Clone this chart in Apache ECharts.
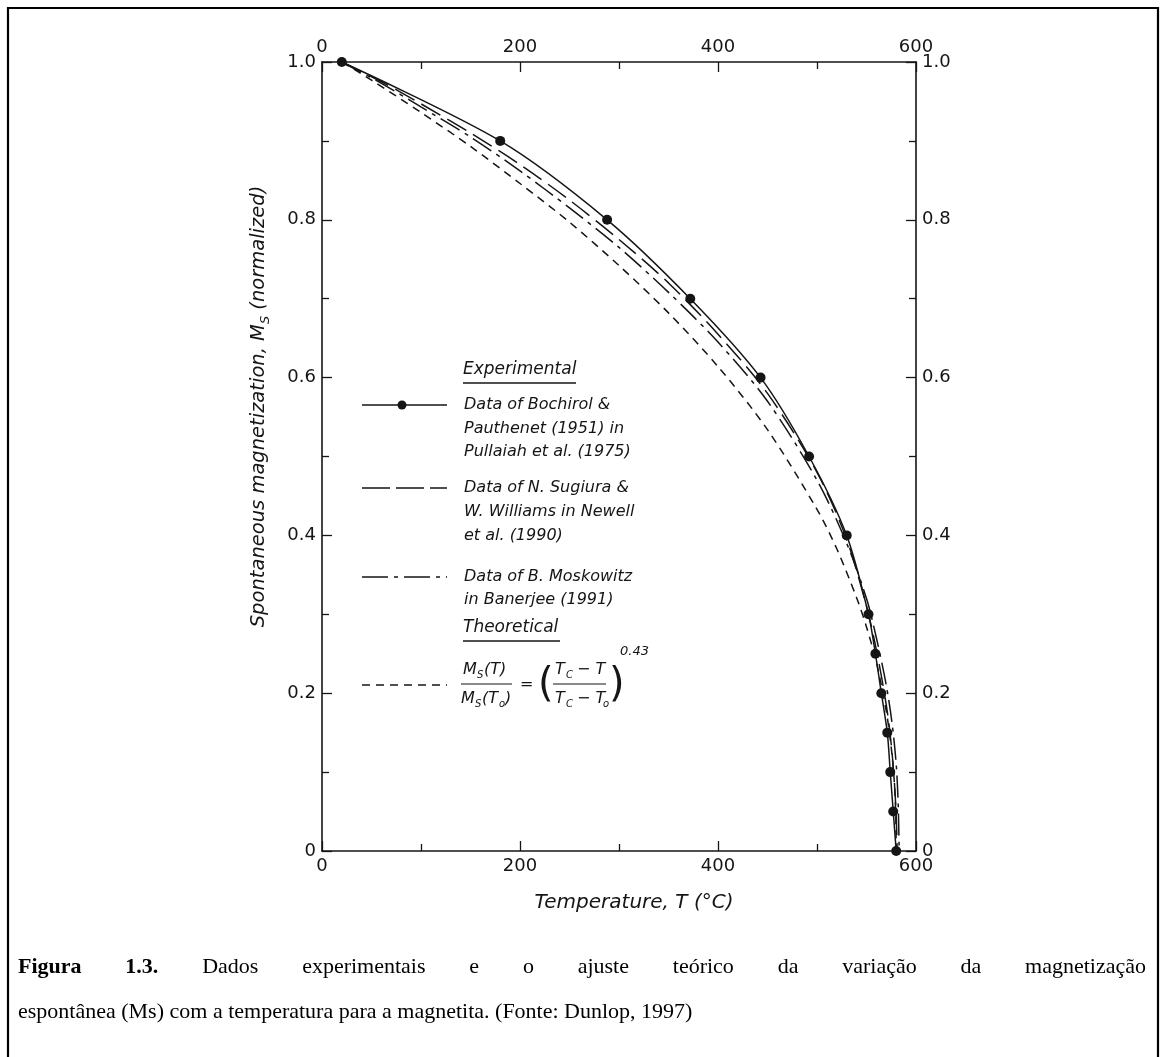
<!DOCTYPE html>
<html>
<head>
<meta charset="utf-8">
<script src="https://cdn.jsdelivr.net/npm/echarts@6/dist/echarts.min.js"></script>
<style>
html,body{margin:0;padding:0;background:#fff;}
#chart{width:1166px;height:1057px;}
</style>
</head>
<body>
<div id="chart"></div>
<script>
// ---- data ----
const xTicks = [0, 200, 400, 600];
const yTicks = [0, 0.2, 0.4, 0.6, 0.8, 1.0];

const bochirolT  = [20, 180, 288, 372, 443, 492, 530, 552, 559, 565, 571, 574, 577, 580];
const bochirolMs = [1.0, 0.9, 0.8, 0.7, 0.6, 0.5, 0.4, 0.3, 0.25, 0.2, 0.15, 0.1, 0.05, 0];

const sugiuraT  = [20, 60, 100, 150, 200, 250, 300, 350, 400, 450, 500, 530, 550, 560, 570, 575, 578, 580, 581];
const sugiuraMs = [1.0, 0.975, 0.947, 0.91, 0.87, 0.825, 0.775, 0.72, 0.655, 0.58, 0.48, 0.395, 0.31, 0.255, 0.185, 0.135, 0.09, 0.045, 0];

const moskowitzT  = [20, 60, 100, 150, 200, 250, 300, 350, 400, 450, 500, 530, 550, 560, 570, 576, 580, 582, 583];
const moskowitzMs = [1.0, 0.973, 0.943, 0.905, 0.862, 0.815, 0.765, 0.708, 0.645, 0.57, 0.47, 0.39, 0.32, 0.27, 0.21, 0.16, 0.11, 0.06, 0];

const theoryT  = [20, 50, 100, 150, 200, 250, 300, 350, 400, 450, 500, 520, 540, 550, 560, 570, 575, 578, 579.5, 580];
const theoryMs = [1.0, 0.977, 0.936, 0.893, 0.846, 0.797, 0.742, 0.682, 0.614, 0.534, 0.433, 0.383, 0.321, 0.284, 0.239, 0.177, 0.131, 0.089, 0.049, 0];

const xName = 'Temperature, T (°C)';
const captionLine1 = [['Figura', true], ['1.3.', true], ['Dados'], ['experimentais'], ['e'], ['o'], ['ajuste'], ['teórico'], ['da'], ['variação'], ['da'], ['magnetização']];
const captionLine2 = 'espontânea (Ms) com a temperatura para a magnetita. (Fonte: Dunlop, 1997)';

// ---- build ----
const zip = (a, b) => a.map((v, i) => [v, b[i]]);
const INK = '#151515';
const tickFont = 'DejaVu Sans';
const lgFont = 'DejaVu Sans';

const chart = echarts.init(document.getElementById('chart'), null, {renderer: 'canvas'});

function xAxisCfg(pos) {
  return {
    type: 'value', position: pos, min: 0, max: 600, interval: 200,
    axisLine: {show: true, onZero: false, lineStyle: {color: INK, width: 1.6}},
    axisTick: {show: true, inside: true, length: 10, lineStyle: {color: INK, width: 1.3}},
    minorTick: {show: true, splitNumber: 2, length: 7, lineStyle: {color: INK, width: 1.3}},
    splitLine: {show: false},
    axisLabel: {color: INK, fontFamily: tickFont, fontSize: 18, margin: 6,
      formatter: v => xTicks.includes(v) ? String(v) : ''}
  };
}
function yAxisCfg(pos) {
  return {
    type: 'value', position: pos, min: 0, max: 1, interval: 0.2,
    axisLine: {show: true, onZero: false, lineStyle: {color: INK, width: 1.6}},
    axisTick: {show: true, inside: true, length: 10, lineStyle: {color: INK, width: 1.3}},
    minorTick: {show: true, splitNumber: 2, length: 7, lineStyle: {color: INK, width: 1.3}},
    splitLine: {show: false},
    axisLabel: {color: INK, fontFamily: tickFont, fontSize: 18, margin: 6,
      formatter: v => v === 0 ? '0' : v.toFixed(1)}
  };
}

const xb = xAxisCfg('bottom');
xb.name = xName;
xb.nameLocation = 'middle';
xb.nameGap = 42;
xb.nameTextStyle = {color: INK, fontFamily: lgFont, fontStyle: 'italic', fontSize: 20, padding: [0, 0, 0, 30]};
const xt = xAxisCfg('top');
const yl = yAxisCfg('left');
yl.name = '{a|Spontaneous magnetization, M}{b|S}{a| (normalized)}';
yl.nameLocation = 'middle';
yl.nameGap = 50;
yl.nameRotate = 90;
yl.nameTextStyle = {color: INK, padding: [0, 0, 0, 100], rich: {
  a: {fontFamily: lgFont, fontStyle: 'italic', fontSize: 19.5, color: INK, lineHeight: 26},
  b: {fontFamily: lgFont, fontStyle: 'italic', fontSize: 13, color: INK, lineHeight: 26, verticalAlign: 'bottom', padding: [10, 0, 0, 0]}
}};
const yr = yAxisCfg('right');

function lineSeries(name, T, M, dash, extra) {
  return Object.assign({
    name, type: 'line', xAxisIndex: 0, yAxisIndex: 0,
    data: zip(T, M), smooth: 0.3,
    showSymbol: false, symbol: 'none',
    lineStyle: {color: INK, width: 1.5, type: dash},
    itemStyle: {color: INK}, animation: false
  }, extra || {});
}

// ---- legend & caption graphics ----
const G = [];
function txt(x, y, text, opt) {
  G.push({type: 'text', x, y, silent: true, style: Object.assign({
    text, fill: INK, fontFamily: lgFont, fontStyle: 'italic', fontSize: 16,
    textAlign: 'left', textVerticalAlign: 'middle'}, (opt || {}).style || {})});
}
function seg(x1, y1, x2, y2, dash, w) {
  G.push({type: 'line', silent: true, shape: {x1, y1, x2, y2},
    style: {stroke: INK, lineWidth: w || 1.5, lineDash: dash || null}});
}

// Experimental heading
txt(463, 370, 'Experimental', {style: {fontSize: 17}});
seg(463, 383, 576, 383, null, 1.4);
// item 1
seg(362, 405, 447, 405, null, 1.5);
G.push({type: 'circle', silent: true, shape: {cx: 402, cy: 405, r: 4.5}, style: {fill: INK}});
txt(464, 405, 'Data of Bochirol &');
txt(464, 429, 'Pauthenet (1951) in');
txt(464, 452, 'Pullaiah et al. (1975)');
// item 2
seg(362, 488, 447, 488, [28, 6], 1.5);
txt(464, 488, 'Data of N. Sugiura &');
txt(464, 512, 'W. Williams in Newell');
txt(464, 536, 'et al. (1990)');
// item 3
seg(362, 577, 447, 577, [26, 6, 4, 6], 1.5);
txt(464, 577, 'Data of B. Moskowitz');
txt(464, 600, 'in Banerjee (1991)');
// Theoretical heading
txt(463, 628, 'Theoretical', {style: {fontSize: 17}});
seg(463, 641, 560, 641, null, 1.4);
// item 4
seg(362, 685, 447, 685, [8, 6], 1.5);
// formula
txt(463, 670, 'M', {style: {fontSize: 16}});
txt(477, 675, 'S', {style: {fontSize: 10}});
txt(484, 670, '(T)', {style: {fontSize: 16}});
seg(461, 684, 512, 684, null, 1.2);
txt(461, 699, 'M', {style: {fontSize: 16}});
txt(475, 704, 'S', {style: {fontSize: 10}});
txt(482, 699, '(T', {style: {fontSize: 16}});
txt(499, 704, 'o', {style: {fontSize: 10}});
txt(505, 699, ')', {style: {fontSize: 16}});
txt(520, 685, '=', {style: {fontSize: 16, fontStyle: 'normal'}});
txt(538, 686, '(', {style: {fontSize: 40, fontStyle: 'normal'}});
txt(555, 670, 'T', {style: {fontSize: 16}});
txt(566, 675, 'C', {style: {fontSize: 10}});
txt(577, 670, '− T', {style: {fontSize: 16}});
seg(553, 684, 606, 684, null, 1.2);
txt(555, 699, 'T', {style: {fontSize: 16}});
txt(566, 704, 'C', {style: {fontSize: 10}});
txt(577, 699, '− T', {style: {fontSize: 16}});
txt(603, 704, 'o', {style: {fontSize: 10}});
txt(609, 686, ')', {style: {fontSize: 40, fontStyle: 'normal'}});
txt(620, 652, '0.43', {style: {fontSize: 13}});

// outer frame
G.push({type: 'rect', silent: true, shape: {x: 8, y: 8, width: 1150, height: 1100},
  style: {fill: 'none', stroke: '#000', lineWidth: 2.2}});

// caption line 1, justified
(function () {
  const c = document.createElement('canvas').getContext('2d');
  const fam = '"Liberation Serif", "Times New Roman", serif';
  const left = 18, right = 1146, size = 22;
  let widths = captionLine1.map(w => {
    c.font = (w[1] ? 'bold ' : '') + size + 'px ' + fam;
    return c.measureText(w[0]).width;
  });
  const total = widths.reduce((a, b) => a + b, 0);
  const gap = (right - left - total) / (captionLine1.length - 1);
  let x = left;
  captionLine1.forEach((w, i) => {
    G.push({type: 'text', x, y: 967, silent: true, style: {
      text: w[0], fill: '#000', fontFamily: 'Liberation Serif', fontSize: size,
      fontWeight: w[1] ? 'bold' : 'normal', textAlign: 'left', textVerticalAlign: 'middle'}});
    x += widths[i] + gap;
  });
  G.push({type: 'text', x: left, y: 1012, silent: true, style: {
    text: captionLine2, fill: '#000', fontFamily: 'Liberation Serif', fontSize: size,
    textAlign: 'left', textVerticalAlign: 'middle'}});
})();

const option = {
  backgroundColor: '#fff',
  animation: false,
  grid: {left: 322, right: 250, top: 62, bottom: 206, containLabel: false},
  xAxis: [xb, xt],
  yAxis: [yl, yr],
  series: [
    lineSeries('Theoretical', theoryT, theoryMs, [8, 6]),
    lineSeries('Moskowitz', moskowitzT, moskowitzMs, [22, 6, 4, 6]),
    lineSeries('Sugiura', sugiuraT, sugiuraMs, [22, 8]),
    lineSeries('Bochirol', bochirolT, bochirolMs, 'solid', {
      showSymbol: true, symbol: 'circle', symbolSize: 10, z: 5
    })
  ],
  graphic: G
};
chart.setOption(option);
</script>
</body>
</html>
